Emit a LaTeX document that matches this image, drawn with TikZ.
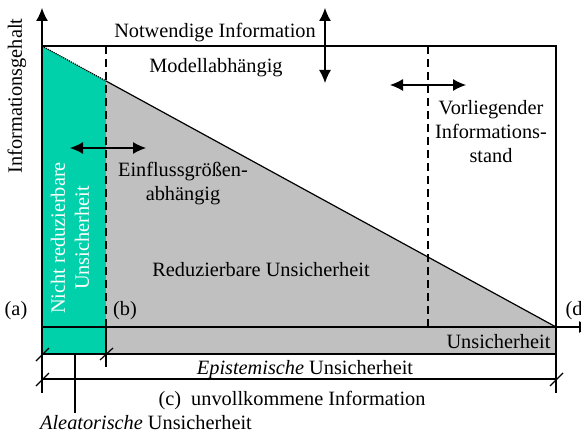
\documentclass[tikz,border=0pt]{standalone}
\usepackage{fontspec}
\setmainfont{Liberation Serif}
\usetikzlibrary{arrows.meta}
\definecolor{aleat}{RGB}{0,209,171}
\definecolor{epist}{RGB}{192,192,192}
\begin{document}
\begin{tikzpicture}[x=1bp,y=-1bp,
  line width=1.2bp,
  tip/.style={-{Latex[length=13bp,width=12bp]}},
  twotip/.style={{Latex[length=13bp,width=12bp]}-{Latex[length=13bp,width=12bp]}},
  dashline/.style={dash pattern=on 8bp off 5bp},
  txt/.style={font=\fontsize{20.4}{24}\selectfont, inner sep=0pt, anchor=base},
  tick/.style={line width=1.2bp}]
\useasboundingbox (0,0) rectangle (581,435);
% key points
\coordinate (O) at (42,327);
\coordinate (A) at (42,46);
\coordinate (B) at (106,81);
\coordinate (D) at (556,327);
\coordinate (TR) at (556,46);
% areas
\fill[aleat] (A) -- (B) -- (106,354) -- (42,354) -- cycle;
\fill[epist] (B) -- (D) -- (556,354) -- (106,354) -- cycle;
% frame
\draw (A) -- (TR) -- (556,393);
\draw (B) -- (D);
\draw[densely dotted] (A) -- (B);
\draw[dashline] (106,46) -- (106,327);
\draw (106,327) -- (106,367);
\draw[dashline] (428,46) -- (428,327);
% axes
\draw[tip] (42,393) -- (42,8);
\draw[tip] (O) -- (592,327);
% bands below the axis
\draw (42,354) -- (556,354);
\draw (42,379) -- (556,379);
\draw (75,354) -- (75,413);
% dimension ticks
\draw[tick] (36,361) -- (49,348);
\draw[tick] (100,360) -- (113,348);
\draw[tick] (36,386) -- (49,373);
\draw[tick] (550,386) -- (563,373);
% arrows
\draw[twotip] (325,8) -- (325,83);
\draw[twotip] (390,85) -- (466,85);
\draw[twotip] (70,148) -- (146,148);
% labels
\node[txt] (nw) at (215,38) {Notwendige Information};
\node[txt] (ma) at (216,73) {Modellabhängig};
\node[txt, align=center, anchor=north] (vi) at (491,100) {Vorliegender\\Informations-\\stand};
\node[txt, align=center, anchor=north] (ea) at (183,162) {Einflussgrößen-\\abhängig};
\node[txt] (ru) at (261,277) {Reduzierbare Unsicherheit};
\node[txt] (la) at (16,315) {(a)};
\node[txt] (lb) at (125,315) {(b)};
\node[txt, anchor=base west] (ld) at (565,315) {(d)};
\node[txt, anchor=base east] (us) at (551,348) {Unsicherheit};
\node[txt] (ep) at (305,374) {\textit{Epistemische} Unsicherheit};
\node[txt] (uv) at (292,405) {(c)\enspace unvollkommene Information};
\node[txt] (al) at (146,429) {\textit{Aleatorische} Unsicherheit};
\node[txt, anchor=center, rotate=90] (ig) at (17,96) {Informationsgehalt};
\node[txt, anchor=center, rotate=90, align=center, text=white] (nr) at (70,238) {Nicht reduzierbare\\Unsicherheit};
\end{tikzpicture}
\end{document}
